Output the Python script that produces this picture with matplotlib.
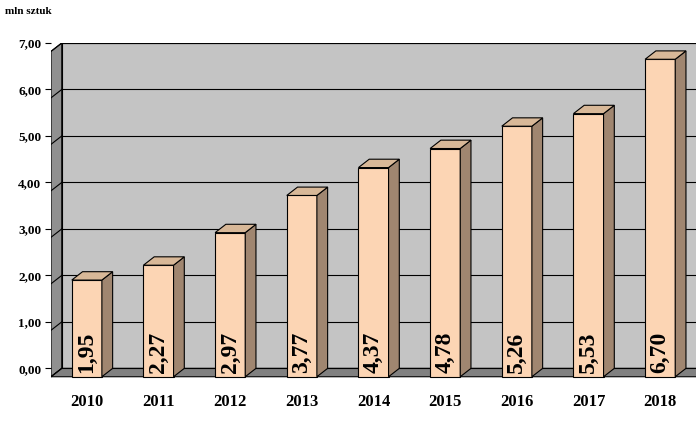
import matplotlib
matplotlib.use("Agg")
import matplotlib.pyplot as plt
from matplotlib.patches import Polygon, Rectangle

years = ["2010", "2011", "2012", "2013", "2014", "2015", "2016", "2017", "2018"]
values = [1.95, 2.27, 2.97, 3.77, 4.37, 4.78, 5.26, 5.53, 6.70]
yticks = [0, 1, 2, 3, 4, 5, 6, 7]

fig = plt.figure(figsize=(6.96, 4.25), dpi=100)
ax = fig.add_axes([51/696, (425-380)/425, 645/696, (380-43)/425])
ax.set_xlim(-0.5, 8.5)
ax.set_ylim(-0.25, 7)
for s in ax.spines.values():
    s.set_visible(False)

dx, dy = 0.15, 0.18
serif = "Liberation Serif"

ax.add_patch(Rectangle((-0.5+dx, 0), 9, 7, facecolor="#c4c4c4", edgecolor="black", lw=0.8, zorder=0))
for v in yticks:
    ax.plot([-0.5+dx, 8.6], [v, v], color="black", lw=0.8, zorder=1)
    ax.plot([-0.5, -0.5+dx], [v-dy, v], color="black", lw=0.8, zorder=1)
ax.add_patch(Polygon([(-0.5, -dy), (-0.5+dx, 0), (-0.5+dx, 7), (-0.5, 7-dy)],
                     facecolor="#909090", edgecolor="black", lw=0.8, zorder=0.5))
ax.add_patch(Polygon([(-0.5, -dy), (-0.5+dx, 0), (8.6, 0), (8.6, -dy)],
                     facecolor="#808080", edgecolor="black", lw=0.8, zorder=0.5))

w = 0.21
for i, v in enumerate(values):
    b, t = -dy, v - 0.05
    ax.add_patch(Polygon([(i-w, b), (i+w, b), (i+w, t), (i-w, t)],
                         facecolor="#fcd5b4", edgecolor="black", lw=0.8, zorder=3))
    ax.add_patch(Polygon([(i+w, b), (i+w+dx, b+dy), (i+w+dx, t+dy), (i+w, t)],
                         facecolor="#a08670", edgecolor="black", lw=0.8, zorder=3))
    ax.add_patch(Polygon([(i-w, t), (i+w, t), (i+w+dx, t+dy), (i-w+dx, t+dy)],
                         facecolor="#d8b898", edgecolor="black", lw=0.8, zorder=3))
    ax.text(i, b + 0.08, f"{v:.2f}".replace(".", ","), rotation=90, ha="center", va="bottom",
            fontsize=17, fontweight="bold", family=serif, zorder=4)

ax.set_yticks(yticks)
ax.set_yticklabels([f"{v:.2f}".replace(".", ",") for v in yticks], family=serif,
                   fontweight="bold", fontsize=9.5)
ax.tick_params(axis="y", length=4, pad=3)
ax.set_xticks(range(len(years)))
ax.set_xticklabels(years, family=serif, fontweight="bold", fontsize=12)
ax.tick_params(axis="x", length=0, pad=10)

fig.text(5/696, 1 - 14/425, "mln sztuk", family=serif, fontweight="bold", fontsize=8)
fig.savefig("out.png", dpi=100)
